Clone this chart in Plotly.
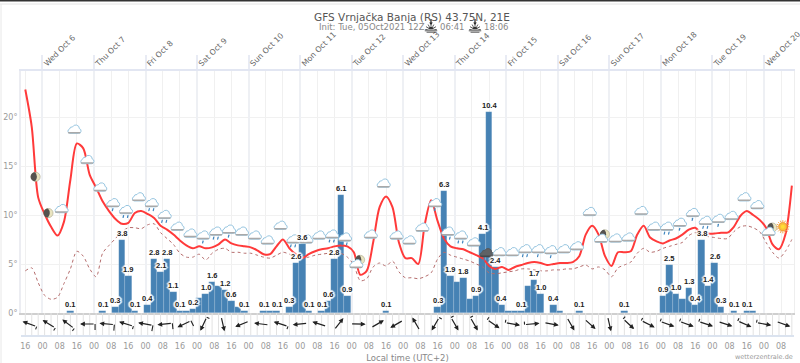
import base64, math
import plotly.graph_objects as go

# ---- data (3-hourly from Tue Oct 5 16:00 local; hours are relative to Wed Oct 6 00:00) ----
temperature = [22.8,19.0,11.8,10.1,8.8,7.9,9.3,13.6,17.3,16.8,14.1,12.8,11.4,10.4,9.6,9.1,9.2,10.2,10.4,10.1,
 9.7,8.9,8.5,8.0,7.4,6.9,6.6,6.8,6.6,6.7,7.0,7.5,7.1,6.9,6.8,6.7,6.4,6.0,6.0,6.8,
 7.5,6.6,6.0,5.6,6.0,6.3,6.5,6.6,6.8,6.9,6.8,6.2,3.9,4.3,7.2,10.8,11.9,10.8,7.2,5.6,
 5.6,5.0,9.0,11.5,9.4,7.6,6.8,6.6,6.5,6.2,5.9,5.6,4.8,4.5,4.7,4.4,4.7,4.9,5.1,5.2,
 5.1,4.9,5.0,5.1,5.1,5.2,5.8,8.0,8.9,8.0,5.8,4.8,6.2,6.2,6.3,8.0,8.9,7.7,7.3,7.1,
 7.4,7.6,8.0,8.5,8.7,8.1,8.1,8.1,8.2,8.2,8.8,9.9,10.4,10.0,9.5,8.7,7.0,6.5,8.0,13.0]
dewpoint = [4.3,4.6,3.1,1.8,1.4,1.6,3.0,4.5,6.3,5.8,4.5,3.7,6.1,6.9,7.6,8.3,8.7,8.7,8.6,9.0,
 9.1,8.2,7.6,7.0,6.1,5.7,5.7,6.0,5.4,6.1,6.5,6.6,6.2,6.2,6.1,6.1,5.9,5.7,5.6,5.9,
 6.2,6.0,5.7,5.6,5.7,5.9,6.0,6.1,6.3,6.1,5.7,4.9,3.3,3.5,4.7,5.1,4.8,5.3,4.2,3.6,
 3.6,3.5,3.7,4.1,5.5,6.2,5.9,5.7,5.5,5.3,5.0,4.7,4.1,4.0,4.1,4.2,4.3,4.5,4.5,4.4,
 4.3,4.3,4.4,4.4,4.5,4.5,4.7,4.9,4.5,4.7,4.4,3.7,4.6,4.9,5.2,6.1,6.6,6.2,6.3,6.6,
 6.8,7.0,7.2,7.9,8.2,8.0,7.8,7.7,7.6,7.6,8.3,8.8,8.9,8.7,8.3,7.2,6.2,5.6,6.3,7.5]
precip = [0,0,0,0,0,0,0,0.1,0,0,0,0,0.1,0,0.3,3.8,1.9,0.1,0,0.4,
 2.8,2.1,2.8,1.1,0.1,0.1,0.2,0.8,1.0,1.6,1.4,1.2,0.6,0.3,0.1,0,0,0.1,0.1,0.1,
 0,0.3,2.6,3.6,0.1,0,0.1,0.6,2.8,6.1,0.9,0,0,0,0,0,0.1,0,0,0,
 0,0,0,0,0.3,6.3,1.9,1.6,1.8,0.7,0.9,4.1,10.4,2.4,0.4,0.1,0.1,0.1,1.4,1.7,
 1.0,0,0.4,0.1,0,0,0.1,0,0,0,0,0,0,0.1,0,0,0,0,0,0.9,
 2.5,1.0,0.7,1.3,0.4,3.8,1.4,2.6,0.3,0,0.1,0,0.1,0.1,0,0,0,0,0,0]
unlabelled = [25,27,30,33,38,67,69,75,76,78,83,102,113]

icon_index = list(range(2,120,2))
icon_kind = ['m','m','c','c','c','c','r1','r2','c','r2','r2','c','c','r1','r2','r1','c','c','c','c',
 'r2','c','c','r2','r2','mc','c','c','c','c','c','r1','r2','r2','c','d','c','c','r2','r1',
 'r1','c','c','c','mc','c','c','c','c','r2','r1','r1','r2','r1','c','c','c','mc','s']
icon_level = [13.9,10.2,10.6,18.7,15.6,12.8,11.2,10.5,11.8,11.2,10.0,8.8,8.1,7.9,8.3,8.5,8.3,7.9,7.4,8.9,
 7.5,7.5,7.9,8.0,7.7,5.2,8.0,13.2,7.9,7.4,8.7,11.2,8.3,7.9,7.2,6.1,6.2,6.2,6.5,6.5,
 6.4,6.5,6.8,10.3,7.8,7.6,7.7,10.4,8.8,8.8,9.2,10.2,9.4,9.6,9.9,11.8,11.0,8.5,8.8]

wind_index = list(range(1,120,3))
wind_dir = [160,148,143,180,175,163,170,186,206,245,283,202,173,162,186,162,52,358,30,210,
 120,240,300,300,325,350,5,350,300,318,283,317,333,340,340,342,342,336,350,340]
wind_barb = [3,3,3,6,6,3,6,6,6,3,0,0,0,3,0,0,0,0,0,0,
 0,3,3,3,3,3,3,0,0,0,0,3,3,3,3,3,0,3,3,0]

day_hours = [24*d for d in range(15)]
day_labels = ['Wed Oct 6','Thu Oct 7','Fri Oct 8','Sat Oct 9','Sun Oct 10','Mon Oct 11','Tue Oct 12','Wed Oct 13',
 'Thu Oct 14','Fri Oct 15','Sat Oct 16','Sun Oct 17','Mon Oct 18','Tue Oct 19','Wed Oct 20']
time_hours = list(range(-8,350,8))
time_labels = ['16','00','08']*15
temp_ticks = [0,5,10,15,20]

hours = [-8+3*i for i in range(len(temperature))]

# ---- geometry ----
W,H = 800,363
L,R,T,B = 21,6,71,28
PW = W-L-R; PH = H-T-B
STRIP = 22
XMIN,XMAX = -10,350
PXH = PW/(XMAX-XMIN)
TMAX = (PH-STRIP)/9.8
PMAX = (PH-STRIP)/19.3
px = lambda v: (v-L)/PW
py = lambda v: (H-B-v)/PH

# ---- icons ----
def svg_uri(body):
    s = f'<svg xmlns="http://www.w3.org/2000/svg" width="54" height="54" viewBox="0 0 18 18">{body}</svg>'
    return 'data:image/svg+xml;base64,'+base64.b64encode(s.encode()).decode()
def cloud(fill='#ffffff', edge='#8dbfdc', base='#a9a9a9', dy=0, dx=0):
    return (f'<g transform="translate({dx},{dy})">'
      f'<path d="M4.6 12.6 h8.8 a2.4 2.4 0 0 0 .7-4.7 a3.6 3.6 0 0 0-6.8-1.7 a2.6 2.6 0 0 0-3 2.1 a2.2 2.2 0 0 0 .3 4.3z" fill="{fill}" stroke="{edge}" stroke-width="0.9"/>'
      f'<path d="M3.4 12 h11" stroke="{base}" stroke-width="1.5" stroke-linecap="round"/></g>')
def drops(n):
    xs = {1:[9],2:[6.8,11.2]}[n]
    return ''.join(f'<path d="M{x} 14.4 l-0.5 2" stroke="#3f86c0" stroke-width="1.2" stroke-linecap="round"/>' for x in xs)
def moon(cx=9,cy=9):
    return (f'<circle cx="{cx}" cy="{cy}" r="4.6" fill="#e9e4c0" stroke="#9a9a80" stroke-width="0.5"/>'
            f'<path d="M{cx-0.5} {cy-4.5} a4.5 4.5 0 1 0 0 9 a6.5 6.5 0 0 0 0-9z" fill="#55534f"/>')
rays = ''.join(f'<path d="M{9+4.7*math.cos(a*math.pi/8):.2f} {9+4.7*math.sin(a*math.pi/8):.2f} L{9+6.6*math.cos(a*math.pi/8):.2f} {9+6.6*math.sin(a*math.pi/8):.2f}" stroke="#f5a54a" stroke-width="1"/>' for a in range(16))
ICONS = {
 'c': svg_uri(cloud()),
 'r1': svg_uri(cloud()+drops(1)),
 'r2': svg_uri(cloud()+drops(2)),
 'd': svg_uri(cloud(fill='#5f6265',edge='#55585b',base='#44474a')+drops(2)),
 'm': svg_uri(moon()),
 'mc': svg_uri(moon(11.4,6.8)+cloud(dy=2.2,dx=-1.6)),
 's': svg_uri(rays+'<circle cx="9" cy="9" r="4.2" fill="#f9c23c" stroke="#f08a24" stroke-width="0.8"/><circle cx="9" cy="9" r="2" fill="#ffdd33"/>'),
}
SUNRISE = svg_uri(''.join(f'<path d="M9 13 L{9+6.5*math.cos(a*math.pi/6):.2f} {13-6.5*math.sin(a*math.pi/6):.2f}" stroke="#333" stroke-width="0.9"/>' for a in range(7))
  +'<path d="M5.4 13 a3.6 3.6 0 0 1 7.2 0z" fill="#333" stroke="#fff" stroke-width="0.6"/><path d="M2 14.4 h14 M4 16 h10" stroke="#333" stroke-width="0.9"/><path d="M9 1 v5" stroke="#222" stroke-width="1.4"/><path d="M7 5 h4 l-2 3z" fill="#222"/>')

images = []
ISIZE = 18
for i,k,lv in zip(icon_index,icon_kind,icon_level):
    images.append(dict(source=ICONS[k],xref='x',yref='y2',x=hours[i]-1.2,y=lv,sizex=ISIZE/PXH,sizey=ISIZE/9.8,
                       xanchor='center',yanchor='middle',sizing='stretch',layer='above'))
for cx in (431,475):
    images.append(dict(source=SUNRISE,xref='paper',yref='paper',x=px(cx),y=py(26),sizex=16/PW,sizey=16/PH,
                       xanchor='center',yanchor='middle',sizing='stretch',layer='above'))

fig = go.Figure()
fig.add_bar(x=hours,y=precip,width=3,marker=dict(color='#4682b4',line=dict(color='rgba(255,255,255,0.25)',width=0.5)),
            xaxis='x',yaxis='y',showlegend=False)
fig.add_scatter(x=hours,y=dewpoint,mode='lines',line=dict(color='#b56d6d',width=1,dash='dot',shape='spline',smoothing=0.8),
                xaxis='x',yaxis='y2',showlegend=False)
fig.add_scatter(x=hours,y=temperature,mode='lines',line=dict(color='#ff3a3a',width=2,shape='spline',smoothing=0.8),
                xaxis='x',yaxis='y2',showlegend=False)
# invisible carrier so that the top day axis is drawn
fig.add_scatter(x=day_hours,y=[0]*len(day_hours),mode='markers',marker=dict(opacity=0),xaxis='x2',yaxis='y2',showlegend=False,hoverinfo='skip')

annotations=[]
halo=','.join(f'{a}px {b}px 1px #fff' for a,b in [(1,1),(-1,-1),(1,-1),(-1,1),(0,2),(2,0),(0,-2),(-2,0)])
for j,(h,p) in enumerate(zip(hours,precip)):
    if p>0 and j not in unlabelled:
        annotations.append(dict(x=h,y=p,xref='x',yref='y',text=f'{p:.1f}',showarrow=False,xanchor='center',yanchor='bottom',
                                yshift=1,borderpad=0,font=dict(family='Liberation Sans',size=7.5,color='#222',weight='bold',shadow=halo)))

# wind strip: 3-hourly guides, barbs, arrows
ALEN = 15
gx,gy=[],[]
for h in range(-8,350,3):
    gx+= [h,h,None]; gy+=[0,STRIP,None]
fig.add_scatter(x=gx,y=gy,mode='lines',line=dict(color='#e2e2e2',width=1),xaxis='x3',yaxis='y3',showlegend=False,hoverinfo='skip')
bx,by=[],[]
for i,d,b in zip(wind_index,wind_dir,wind_barb):
    c = hours[i]-1.0
    dx,dy = math.cos(math.radians(d)),math.sin(math.radians(d))
    hx,hy = c+dx*ALEN/2/PXH, 11+dy*ALEN/2
    tx,ty = c-dx*ALEN/2/PXH, 11-dy*ALEN/2
    annotations.append(dict(x=hx,y=hy,ax=tx,ay=ty,xref='x3',yref='y3',axref='x3',ayref='y3',text='',showarrow=True,
                            arrowhead=2,arrowsize=0.8,arrowwidth=1.2,arrowcolor='#222'))
    if b:
        bd = math.radians(d+90)
        bx += [tx, tx+math.cos(bd)*b/PXH, None]; by += [ty, ty+math.sin(bd)*b, None]
fig.add_scatter(x=bx,y=by,mode='lines',line=dict(color='#222',width=1.1),xaxis='x3',yaxis='y3',showlegend=False,hoverinfo='skip')

subfont=dict(family='DejaVu Sans',size=8.5,color='#888')
annotations += [
 dict(text='Init: Tue, 05Oct2021 12Z',xref='paper',yref='paper',x=px(317),y=py(27),xanchor='left',yanchor='middle',showarrow=False,font=subfont),
 dict(text='06:41',xref='paper',yref='paper',x=px(452),y=py(27),xanchor='center',yanchor='middle',showarrow=False,font=subfont),
 dict(text='18:06',xref='paper',yref='paper',x=px(496),y=py(27),xanchor='center',yanchor='middle',showarrow=False,font=subfont),
 dict(text='wetterzentrale.de',xref='paper',yref='paper',x=px(795),y=py(357),xanchor='right',yanchor='middle',showarrow=False,
      font=dict(family='DejaVu Sans',size=6.5,color='#999')),
]
shapes=[
 dict(type='rect',xref='paper',yref='paper',x0=px(0),x1=px(800),y0=py(0),y1=py(1.5),fillcolor='#333',line_width=0,layer='above'),
 dict(type='line',xref='paper',yref='paper',x0=px(0),x1=px(800),y0=py(4),y1=py(4),line=dict(color='#e4e4e4',width=1),layer='above'),
 dict(type='line',xref='paper',yref='paper',x0=px(1),x1=px(1),y0=py(4),y1=py(363),line=dict(color='#e8e8e8',width=1),layer='above'),
]
axfont=dict(family='DejaVu Sans',size=8,color='#9a9a9a')
dom=[STRIP/PH,1]
fig.update_layout(
 width=W,height=H,margin=dict(l=L,r=R,t=T,b=B,autoexpand=False),paper_bgcolor='white',plot_bgcolor='white',
 title=dict(text='GFS Vrnjačka Banja (RS) 43.75N, 21E',x=412/W,xanchor='center',y=1-17/H,yanchor='middle',
            font=dict(family='DejaVu Sans',size=10.5,color='#555')),
 bargap=0,showlegend=False,images=images,annotations=annotations,shapes=shapes,
 xaxis=dict(range=[XMIN,XMAX],domain=[0,1],anchor='y',tickvals=time_hours,showticklabels=False,ticks='',
            showgrid=True,gridcolor='#f0f0f0',gridwidth=1,showline=True,linecolor='#cfcfcf',linewidth=2,zeroline=False),
 xaxis2=dict(range=[XMIN,XMAX],overlaying='x',side='top',anchor='y',tickvals=day_hours,ticktext=day_labels,tickangle=-45,
             ticks='outside',ticklen=14,tickwidth=2,tickcolor='#e8ebf4',showgrid=True,gridcolor='#eef0f4',gridwidth=1.5,
             showline=True,linecolor='#e2e6f2',linewidth=2,zeroline=False,ticklabelstandoff=-16,ticklabeloverflow='allow',
             ticklabelshift=2,tickfont=dict(family='DejaVu Sans',size=7.8,color='#666')),
 xaxis3=dict(range=[XMIN,XMAX],domain=[0,1],anchor='y3',tickvals=time_hours,ticktext=time_labels,ticks='',showgrid=False,
             showline=True,linecolor='#dbe3ef',linewidth=2,zeroline=False,tickfont=axfont,ticklabelstandoff=2,
             title=dict(text='Local time (UTC+2)',font=dict(family='DejaVu Sans',size=8.5,color='#888'),standoff=5)),
 yaxis=dict(range=[0,PMAX],domain=dom,anchor='x',side='right',showticklabels=False,ticks='',showgrid=False,zeroline=False,
            showline=True,linecolor='#eeeeee',linewidth=1),
 yaxis2=dict(range=[0,TMAX],overlaying='y',anchor='x',side='left',tickvals=temp_ticks,ticktext=[f'{v}°' for v in temp_ticks],ticks='',
             showgrid=True,gridcolor='#f1f1f1',gridwidth=1,zeroline=False,showline=True,linecolor='#ecedf2',linewidth=2,tickfont=axfont),
 yaxis3=dict(range=[0,STRIP],domain=[0,STRIP/PH],anchor='x3',showticklabels=False,ticks='',showgrid=False,zeroline=False),
)
fig.write_html('out.html',config={'displayModeBar':False},post_script="document.body.style.margin='0';document.body.style.overflow='hidden';")
